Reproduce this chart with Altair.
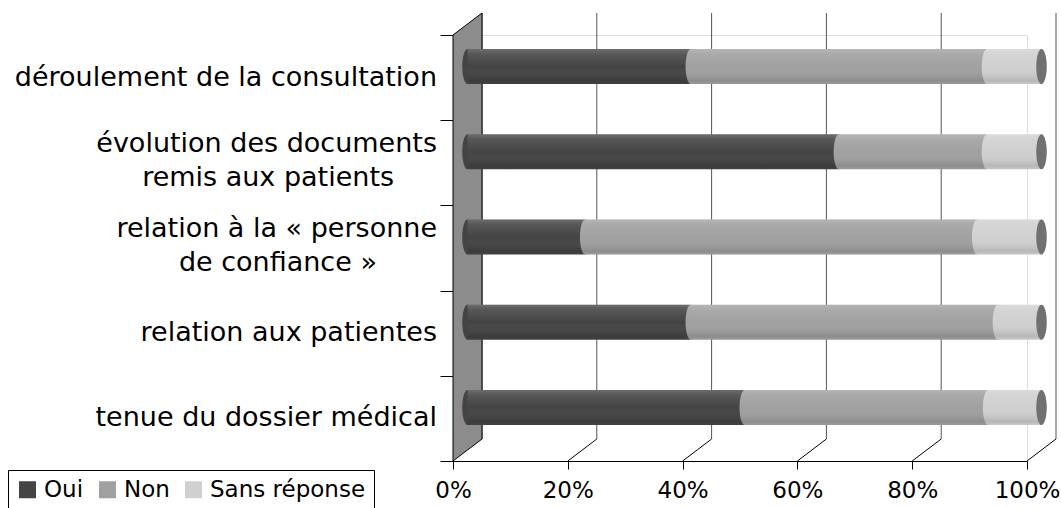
import altair as alt
import pandas as pd

# ---- data -------------------------------------------------------------
categories = [
    "déroulement de la consultation",
    "évolution des documents remis aux patients",
    "relation à la « personne de confiance »",
    "relation aux patientes",
    "tenue du dossier médical",
]
series = ["Oui", "Non", "Sans réponse"]
oui = [38.9, 64.7, 20.5, 38.9, 48.3]
non = [51.6, 25.8, 68.3, 53.5, 42.4]
sans_reponse = [9.5, 9.5, 11.2, 7.6, 9.3]
tick_values = [0, 20, 40, 60, 80, 100]

NBSP = "\u00a0"
WJ = "\u2060"  # keeps the trailing padding from being trimmed
# wrapped labels: the second line is padded so it sits centred under the first
label_lines = [
    ["déroulement de la consultation"],
    ["évolution des documents", "remis aux patients" + NBSP * 5 + WJ],
    ["relation à la « personne", "de confiance »" + NBSP * 7 + WJ],
    ["relation aux patientes"],
    ["tenue du dossier médical"],
]

colors = ["#444444", "#a0a0a0", "#d0d0d0"]
cap_color = "#707070"

# ---- geometry of the pseudo-3D frame ---------------------------------
W, H = 574, 426          # front plane of the plot
DX, DY = 29, 22          # depth of the box (back plane offset, px)
BAR_DX, BAR_DY = DX / 2, -DY / 2   # bars sit half-way in depth
BAR_SIZE = 35
LINE_H = 34
n_rows = len(categories)
dxu = DX / W * 100                 # depth in x-scale units
dyu = DY / (H / n_rows)            # depth in row units

ELLIPSE = "M0,-1A0.3,1,0,1,1,0,1A0.3,1,0,1,1,0,-1Z"
ELLIPSE_SIZE = BAR_SIZE ** 2

# ---- tables ----------------------------------------------------------
rows = []
for i, cat in enumerate(categories):
    start = 0.0
    for s, vals, col in zip(series, [oui, non, sans_reponse], colors):
        v = vals[i]
        rows.append({"cat": cat, "serie": s, "start": start, "end": start + v, "hex": col})
        start += v
bars_df = pd.DataFrame(rows)
last_df = bars_df[bars_df["serie"] == series[-1]]

grid_df = pd.DataFrame({"v": tick_values, "lo": 0, "hi": n_rows})
diag_df = grid_df[grid_df["v"] > 0]
wall_df = pd.DataFrame({"x": [0, dxu], "lo": [0, dyu], "hi": [n_rows, n_rows + dyu]})
single_lines = [{"cat": c, "lines": l} for c, l in zip(categories, label_lines) if len(l) == 1]
double_lines = [{"cat": c, "lines": l} for c, l in zip(categories, label_lines) if len(l) == 2]

# ---- scales & axes ---------------------------------------------------
FONT = "DejaVu Sans"
xscale = alt.Scale(domain=[0, 100], nice=False, zero=False)
yq = alt.Scale(domain=[0, n_rows], nice=False, zero=False)
yb = alt.Scale(domain=categories, paddingInner=0, paddingOuter=0)

xaxis = alt.Axis(values=tick_values, labelExpr="datum.value + '%'", title=None,
                 grid=False, domainColor="black", tickColor="black", tickSize=8,
                 labelFontSize=23, labelFont=FONT, labelColor="black",
                 labelPadding=10, labelFlush=False, labelOverlap=False)
yaxis = alt.Axis(values=list(range(n_rows + 1)), labels=False, title=None,
                 grid=False, tickSize=13, tickColor="black", domainColor="black",
                 orient="left")

X = lambda f: alt.X(f, scale=xscale, axis=xaxis)

# ---- frame: back grid, floor lines, left wall -------------------------
back_grid = alt.Chart(grid_df).mark_rule(
    color="#555555", strokeWidth=1, xOffset=DX, yOffset=-DY, y2Offset=-DY
).encode(x=X("v:Q"), y=alt.Y("lo:Q", scale=yq, axis=yaxis), y2="hi:Q")

floor = alt.Chart(diag_df).mark_rule(
    color="black", strokeWidth=1, x2Offset=DX, y2Offset=-DY
).encode(x=X("v:Q"), x2="v:Q", y=alt.Y("lo:Q", scale=yq, axis=yaxis), y2="lo:Q")

wall = alt.Chart(wall_df).mark_area(
    fill="#8c8c8c", stroke="black", strokeWidth=1, opacity=1
).encode(x=X("x:Q"), y=alt.Y("lo:Q", scale=yq, axis=yaxis), y2="hi:Q")

frame = alt.layer(back_grid, floor, wall)

# ---- cylinders -------------------------------------------------------
ycat = alt.Y("cat:N", scale=yb, axis=None)
offs = dict(xOffset=BAR_DX, x2Offset=BAR_DX, yOffset=BAR_DY, y2Offset=BAR_DY)

legend = alt.Legend(orient="none", legendX=8 - 453, legendY=470 - 35,
                    direction="horizontal", title=None, symbolType="square",
                    symbolSize=289, symbolStrokeWidth=0, symbolOpacity=1,
                    labelFontSize=23, labelFont=FONT, labelColor="black",
                    strokeColor="black", fillColor="white", padding=8,
                    columnPadding=12, labelOffset=5, labelLimit=0)

bars = alt.Chart(bars_df).mark_bar(size=BAR_SIZE, **offs).encode(
    x=X("start:Q"), x2="end:Q", y=ycat,
    color=alt.Color("serie:N", scale=alt.Scale(domain=series, range=colors),
                    legend=legend),
)

segment_ends = alt.Chart(bars_df).mark_point(
    shape=ELLIPSE, size=ELLIPSE_SIZE, filled=True, opacity=1, strokeWidth=0,
    xOffset=BAR_DX, yOffset=BAR_DY
).encode(x=X("start:Q"), y=ycat, color=alt.Color("hex:N", scale=None))

shade = alt.Gradient(
    gradient="linear", x1=0, x2=0, y1=0, y2=1,
    stops=[
        alt.GradientStop(color="rgba(255,255,255,0.22)", offset=0),
        alt.GradientStop(color="rgba(255,255,255,0.10)", offset=0.15),
        alt.GradientStop(color="rgba(255,255,255,0)", offset=0.5),
        alt.GradientStop(color="rgba(0,0,0,0.12)", offset=0.9),
        alt.GradientStop(color="rgba(0,0,0,0.04)", offset=1),
    ],
)
shading = alt.Chart(bars_df).mark_bar(size=BAR_SIZE, fill=shade, **offs).encode(
    x=X("start:Q"), x2="end:Q", y=ycat
)

caps = alt.Chart(last_df).mark_point(
    shape=ELLIPSE, size=ELLIPSE_SIZE, filled=True, opacity=1, strokeWidth=0,
    color=cap_color, xOffset=BAR_DX, yOffset=BAR_DY
).encode(x=X("end:Q"), y=ycat)

# ---- category labels -------------------------------------------------
text_style = dict(align="right", baseline="middle", dx=-16, fontSize=27,
                  lineHeight=LINE_H, font=FONT, color="black")
labels_1 = alt.Chart(alt.Data(values=single_lines)).mark_text(**text_style).encode(
    x=alt.value(0), y=ycat, text="lines:N")
labels_2 = alt.Chart(alt.Data(values=double_lines)).mark_text(
    dy=-LINE_H / 2 - 2, **text_style).encode(x=alt.value(0), y=ycat, text="lines:N")

data_layers = alt.layer(bars, segment_ends, shading, caps, labels_1, labels_2)

chart = (
    alt.layer(frame, data_layers)
    .resolve_scale(y="independent")
    .properties(
        width=W, height=H,
        padding={"left": 453, "top": 35, "right": 1061 - 453 - W, "bottom": 508 - 35 - H},
        autosize=alt.AutoSizeParams(type="none"),
        background="white",
    )
    .configure_view(stroke=None)
    .configure(font=FONT)
)

chart.save("out.html", embed_options={"renderer": "svg", "actions": False})
